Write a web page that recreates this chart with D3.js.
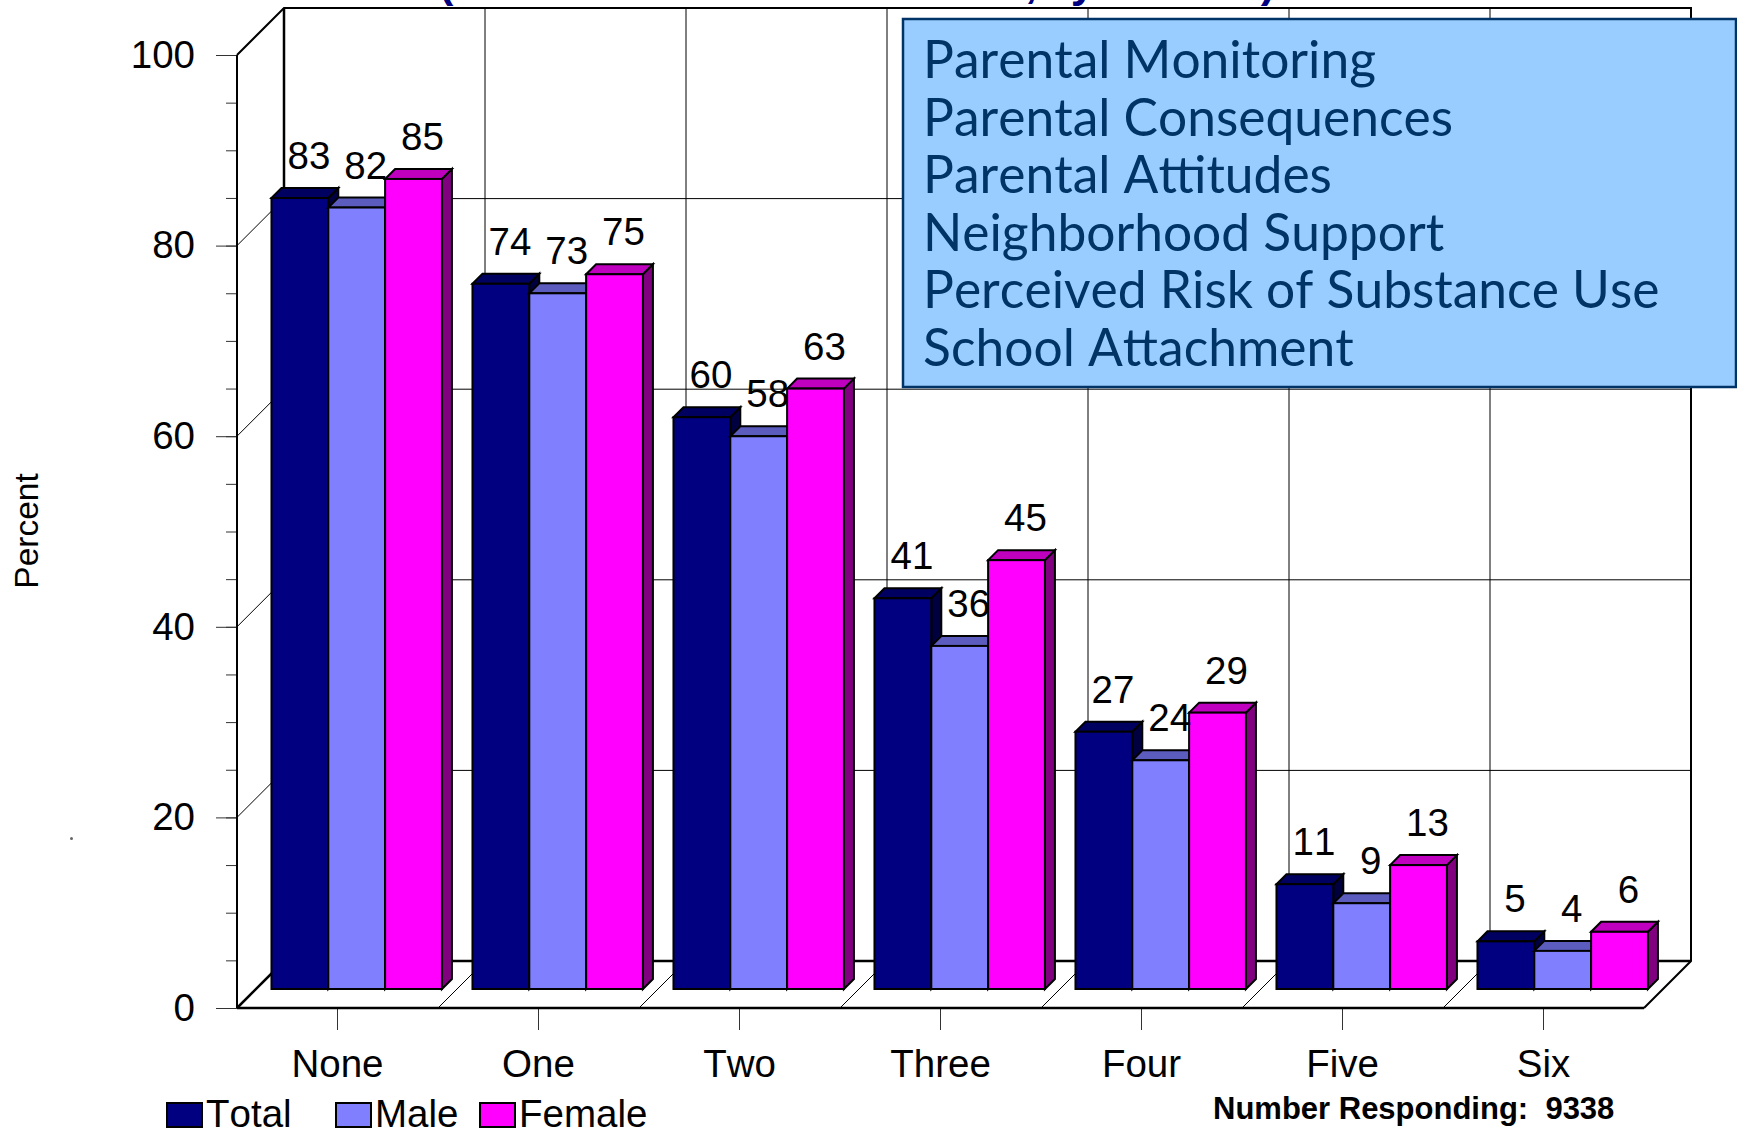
<!DOCTYPE html>
<html>
<head>
<meta charset="utf-8">
<script src="https://cdn.jsdelivr.net/npm/d3@7"></script>
<style>
  html, body { margin: 0; padding: 0; background: #fff; }
  svg { display: block; }
  text { font-family: "Liberation Sans", Arial, sans-serif; fill: #000; font-kerning: none; }
</style>
</head>
<body>
<div id="chart"></div>
<script>
const categories = ["None", "One", "Two", "Three", "Four", "Five", "Six"];
const seriesNames = ["Total", "Male", "Female"];
const totalValues = [83, 74, 60, 41, 27, 11, 5];
const maleValues = [82, 73, 58, 36, 24, 9, 4];
const femaleValues = [85, 75, 63, 45, 29, 13, 6];
const yTicks = [0, 20, 40, 60, 80, 100];
const yMinorTicks = d3.range(0, 101, 5);
const boxLines = [
  "Parental Monitoring",
  "Parental Consequences",
  "Parental Attitudes",
  "Neighborhood Support",
  "Perceived Risk of Substance Use",
  "School Attachment"
];
// the title is cut off by the top of the picture, only these bottoms remain
const titleBits = ["(", ",", "y", ")"];

const seriesValues = [totalValues, maleValues, femaleValues];
const colors = [
  { front: "#000080", top: "#000060", side: "#000040" },
  { front: "#8080ff", top: "#5c5cbf", side: "#404080" },
  { front: "#ff00ff", top: "#bf00bf", side: "#800080" }
];

const W = 1737, H = 1133;
const labelSize = "38.5px";
const svg = d3.select("#chart").append("svg").attr("width", W).attr("height", H);

// Scales of the front plane
const x = d3.scaleBand().domain(categories).range([237, 1644]);
const y = d3.scaleLinear().domain([0, 100]).range([1008, 55]);
const depth = 47;      // wall depth
const barPlane = 19;   // bars stand this far behind the front edge
const barDepth = 10;
const barGroup = d3.scaleBand().domain(seriesNames)
  .range([x.bandwidth() * 0.077, x.bandwidth() * 0.925]);

const boundaries = categories.map(c => x(c)).concat(x.range()[1]);

// --- title remains ---
const titleBitX = [446, 1031, 1083, 1268];
titleBits.forEach((t, i) => {
  svg.append("text").attr("x", titleBitX[i]).attr("y", -3)
    .attr("text-anchor", "middle")
    .style("font-size", "44px").style("font-weight", "bold").style("fill", "#000080")
    .text(t);
});

// --- walls and grid ---
const grid = svg.append("g").attr("stroke", "#000").attr("fill", "none");
yTicks.slice(1, -1).forEach(v => {
  grid.append("path").attr("stroke-width", 1)
    .attr("d", `M${x.range()[0]},${y(v)}L${x.range()[0] + depth},${y(v) - depth}H${x.range()[1] + depth}`);
});
boundaries.slice(1, -1).forEach(b => {
  grid.append("path").attr("stroke-width", 1)
    .attr("d", `M${b},${y(0)}L${b + depth},${y(0) - depth}V${y(100) - depth}`);
});
const left = x.range()[0], right = x.range()[1];
grid.append("path").attr("stroke-width", 2)
  .attr("d", `M${left},${y(100)}L${left + depth},${y(100) - depth}H${right + depth}V${y(0) - depth}L${right},${y(0)}`);
grid.append("path").attr("stroke-width", 2.5)
  .attr("d", `M${left + depth},${y(100) - depth}V${y(0) - depth}H${right + depth}`);
grid.append("path").attr("stroke-width", 2.5)
  .attr("d", `M${left + depth},${y(0) - depth}L${left},${y(0)}`);

// --- y axis ---
const yAxisMinor = d3.axisLeft(y).tickValues(yMinorTicks).tickSize(11).tickFormat("");
const yAxisG = svg.append("g").attr("transform", `translate(${left},0)`).call(yAxisMinor);
yAxisG.select(".domain").remove();
yAxisG.selectAll("line").attr("stroke", "#333").attr("stroke-width", 1);

const yAxisMajor = d3.axisLeft(y).tickValues(yTicks).tickSize(21).tickPadding(21);
const yAxisG2 = svg.append("g").attr("transform", `translate(${left},0)`).call(yAxisMajor);
yAxisG2.select(".domain").remove();
yAxisG2.selectAll("line").attr("stroke", "#333").attr("stroke-width", 1);
yAxisG2.selectAll("text").style("font-size", labelSize)
  .style("font-family", '"Liberation Sans", Arial, sans-serif');

svg.append("path").attr("fill", "none").attr("stroke", "#000").attr("stroke-width", 2)
  .attr("d", `M${left},${y(100)}V${y(0)}`);

// --- x axis ---
const xAxis = d3.axisBottom(x).tickSize(22).tickPadding(20);
const xAxisG = svg.append("g").attr("transform", `translate(0,${y(0)})`).call(xAxis);
xAxisG.select(".domain").remove();
xAxisG.selectAll("line").attr("stroke", "#333").attr("stroke-width", 1);
xAxisG.selectAll("text").style("font-size", labelSize)
  .style("font-family", '"Liberation Sans", Arial, sans-serif');

svg.append("path").attr("fill", "none").attr("stroke", "#000").attr("stroke-width", 2.5)
  .attr("d", `M${left},${y(0)}H${right}`);

// --- bars ---
const barsG = svg.append("g").attr("transform", `translate(${barPlane},${-barPlane})`);
categories.forEach((c, ci) => {
  seriesNames.forEach((s, si) => {
    const v = seriesValues[si][ci];
    const x0 = x(c) + barGroup(s), x1 = x0 + barGroup.bandwidth();
    const yt = y(v), yb = y(0);
    const col = colors[si];
    const bar = barsG.append("g").attr("stroke", "#000").attr("stroke-width", 2).attr("stroke-linejoin", "miter");
    bar.append("path").attr("fill", col.side)
      .attr("d", `M${x1},${yt}L${x1 + barDepth},${yt - barDepth}V${yb - barDepth}L${x1},${yb}Z`);
    bar.append("path").attr("fill", col.top)
      .attr("d", `M${x0},${yt}L${x0 + barDepth},${yt - barDepth}H${x1 + barDepth}L${x1},${yt}Z`);
    bar.append("rect").attr("fill", col.front)
      .attr("x", x0).attr("y", yt).attr("width", x1 - x0).attr("height", yb - yt);
  });
});

// value labels go on top of every bar
categories.forEach((c, ci) => {
  seriesNames.forEach((s, si) => {
    const v = seriesValues[si][ci];
    barsG.append("text")
      .attr("x", x(c) + barGroup(s) + barGroup.bandwidth() / 2 + 9)
      .attr("y", y(v) - 29)
      .attr("text-anchor", "middle")
      .style("font-size", labelSize)
      .text(v);
  });
});

// --- y title ---
svg.append("text")
  .attr("transform", "translate(38,531) rotate(-90)")
  .attr("text-anchor", "middle")
  .style("font-size", "33.5px")
  .text("Percent");

// small speck left of the axis
svg.append("circle").attr("cx", 71.5).attr("cy", 838.5).attr("r", 1.5).attr("fill", "#666");

// --- legend ---
const legendX = [167, 336, 480];
seriesNames.forEach((s, i) => {
  svg.append("rect").attr("x", legendX[i]).attr("y", 1103)
    .attr("width", 35).attr("height", 24)
    .attr("fill", colors[i].front).attr("stroke", "#000").attr("stroke-width", 2);
  svg.append("text").attr("x", legendX[i] + 39).attr("y", 1127)
    .style("font-size", labelSize).text(s);
});

svg.append("text").attr("x", 1213).attr("y", 1119)
  .style("font-size", "31px").style("font-weight", "bold")
  .style("white-space", "pre")
  .text("Number Responding:  9338");

// --- text box ---
svg.append("rect").attr("x", 903).attr("y", 19).attr("width", 833).attr("height", 368)
  .attr("fill", "#99ccff").attr("stroke", "#003366").attr("stroke-width", 2.5);
boxLines.forEach((t, i) => {
  svg.append("text").attr("x", 923).attr("y", 78 + i * 57.6)
    .style("font-family", '"Comic Sans MS", Lato, sans-serif')
    .style("font-size", "51.5px")
    .style("fill", "#003366")
    .text(t);
});
</script>
</body>
</html>
